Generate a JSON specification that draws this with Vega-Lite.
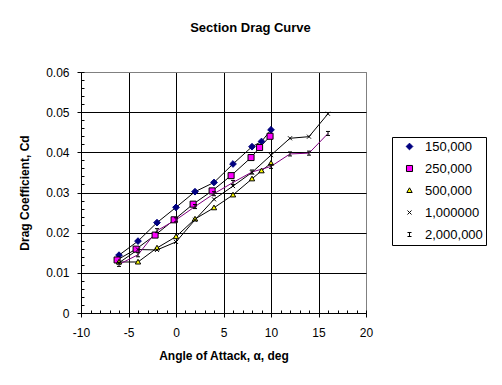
{
  "$schema": "https://vega.github.io/schema/vega-lite/v6.json",
  "width": 285,
  "height": 241,
  "autosize": {"type": "none"},
  "padding": {"left": 81, "top": 72, "right": 136, "bottom": 72},
  "background": "white",
  "title": {
    "text": "Section Drag Curve",
    "font": "Liberation Sans",
    "fontSize": 13,
    "fontWeight": "bold",
    "color": "black",
    "anchor": "middle",
    "baseline": "bottom",
    "dx": 27,
    "offset": 18
  },
  "config": {
    "view": {"stroke": "#808080", "strokeWidth": 1},
    "axis": {
      "labelFont": "Liberation Sans",
      "labelFontSize": 12,
      "labelColor": "black",
      "titleFont": "Liberation Sans",
      "titleFontSize": 12,
      "titleFontWeight": "bold",
      "titleColor": "black",
      "domainColor": "black",
      "tickColor": "black",
      "labelFlush": false,
      "labelOverlap": false
    },
    "legend": {
      "orient": "none",
      "legendX": 311,
      "legendY": 65,
      "strokeColor": "black",
      "fillColor": "white",
      "padding": 3,
      "rowPadding": 8,
      "symbolSize": 45,
      "symbolStrokeWidth": 1,
      "symbolOffset": 8,
      "labelOffset": 9,
      "labelFont": "Liberation Sans",
      "labelFontSize": 13,
      "labelColor": "black"
    }
  },
  "data": {
    "values": [
      {"series": "150,000", "x": -6, "cd": 0.0144},
      {"series": "150,000", "x": -4, "cd": 0.0179},
      {"series": "150,000", "x": -2, "cd": 0.0225},
      {"series": "150,000", "x": 0, "cd": 0.0263},
      {"series": "150,000", "x": 2, "cd": 0.0302},
      {"series": "150,000", "x": 4, "cd": 0.0325},
      {"series": "150,000", "x": 6, "cd": 0.0371},
      {"series": "150,000", "x": 8, "cd": 0.0414},
      {"series": "150,000", "x": 9, "cd": 0.0427},
      {"series": "150,000", "x": 10, "cd": 0.0456},
      {"series": "250,000", "x": -6.2, "cd": 0.0132},
      {"series": "250,000", "x": -4.2, "cd": 0.0159},
      {"series": "250,000", "x": -2.2, "cd": 0.0194},
      {"series": "250,000", "x": -0.2, "cd": 0.0232},
      {"series": "250,000", "x": 1.8, "cd": 0.0271},
      {"series": "250,000", "x": 3.8, "cd": 0.0304},
      {"series": "250,000", "x": 5.8, "cd": 0.0342},
      {"series": "250,000", "x": 7.9, "cd": 0.0387},
      {"series": "250,000", "x": 8.8, "cd": 0.0412},
      {"series": "250,000", "x": 9.9, "cd": 0.044},
      {"series": "500,000", "x": -6, "cd": 0.0127},
      {"series": "500,000", "x": -4, "cd": 0.0127},
      {"series": "500,000", "x": -2, "cd": 0.0162},
      {"series": "500,000", "x": 0, "cd": 0.019},
      {"series": "500,000", "x": 2, "cd": 0.0234},
      {"series": "500,000", "x": 4, "cd": 0.0262},
      {"series": "500,000", "x": 6, "cd": 0.0294},
      {"series": "500,000", "x": 8, "cd": 0.0334},
      {"series": "500,000", "x": 9, "cd": 0.0354},
      {"series": "500,000", "x": 10, "cd": 0.0373},
      {"series": "1,000000", "x": -6, "cd": 0.0125},
      {"series": "1,000000", "x": -4, "cd": 0.0158},
      {"series": "1,000000", "x": -2, "cd": 0.0157},
      {"series": "1,000000", "x": 0, "cd": 0.0177},
      {"series": "1,000000", "x": 2, "cd": 0.0232},
      {"series": "1,000000", "x": 4, "cd": 0.0283},
      {"series": "1,000000", "x": 6, "cd": 0.0316},
      {"series": "1,000000", "x": 8, "cd": 0.035},
      {"series": "1,000000", "x": 10, "cd": 0.0393},
      {"series": "1,000000", "x": 12, "cd": 0.0435},
      {"series": "1,000000", "x": 14, "cd": 0.0439},
      {"series": "1,000000", "x": 16, "cd": 0.0496},
      {"series": "2,000,000", "x": -6, "cd": 0.0121},
      {"series": "2,000,000", "x": -4, "cd": 0.0145},
      {"series": "2,000,000", "x": -2, "cd": 0.0205},
      {"series": "2,000,000", "x": 0, "cd": 0.0232},
      {"series": "2,000,000", "x": 2, "cd": 0.0265},
      {"series": "2,000,000", "x": 4, "cd": 0.0297},
      {"series": "2,000,000", "x": 6, "cd": 0.0325},
      {"series": "2,000,000", "x": 8, "cd": 0.0351},
      {"series": "2,000,000", "x": 10, "cd": 0.0365},
      {"series": "2,000,000", "x": 12, "cd": 0.0396},
      {"series": "2,000,000", "x": 14, "cd": 0.0398},
      {"series": "2,000,000", "x": 16, "cd": 0.0447}
    ]
  },
  "layer": [
    {
      "mark": {"type": "line", "strokeWidth": 1},
      "encoding": {
        "x": {
          "field": "x", "type": "quantitative",
          "scale": {"domain": [-10, 20], "nice": false, "zero": false},
          "axis": {
            "values": [-10, -5, 0, 5, 10, 15, 20],
            "labelExpr": "'' + datum.value",
            "grid": true,
            "gridColor": {"condition": {"test": "datum.value == 20", "value": "#808080"}, "value": "black"},
            "gridOpacity": 1,
            "tickSize": 4,
            "labelPadding": 10,
            "title": "Angle of Attack, α, deg",
            "titlePadding": 12
          }
        },
        "y": {
          "field": "cd", "type": "quantitative",
          "scale": {"domain": [0, 0.06], "nice": false},
          "axis": {
            "values": [0, 0.01, 0.02, 0.03, 0.04, 0.05, 0.06],
            "labelExpr": "datum.value == 0 ? '0' : format(datum.value, '.2f')",
            "grid": true,
            "gridColor": {"condition": {"test": "datum.value > 0.059", "value": "#808080"}, "value": "black"},
            "gridOpacity": 1,
            "tickSize": 4,
            "labelPadding": 8,
            "title": "Drag Coefficient, Cd",
            "titlePadding": 14
          }
        },
        "detail": {"field": "series", "type": "nominal"},
        "color": {
          "condition": {"test": "datum.series === '2,000,000'", "value": "#800080"},
          "value": "black"
        }
      }
    },
    {
      "mark": {"type": "point", "size": 45, "opacity": 1, "strokeWidth": 1},
      "encoding": {
        "x": {
          "field": "x", "type": "quantitative",
          "axis": {
            "values": [-10,-9,-8,-7,-6,-5,-4,-3,-2,-1,0,1,2,3,4,5,6,7,8,9,10,11,12,13,14,15,16,17,18,19,20],
            "labels": false, "grid": false, "domain": false, "tickSize": 3, "offset": -3, "title": null, "orient": "bottom"
          }
        },
        "y": {
          "field": "cd", "type": "quantitative",
          "axis": {
            "values": [0,0.002,0.004,0.006,0.008,0.01,0.012,0.014,0.016,0.018,0.02,0.022,0.024,0.026,0.028,0.03,0.032,0.034,0.036,0.038,0.04,0.042,0.044,0.046,0.048,0.05,0.052,0.054,0.056,0.058,0.06],
            "labels": false, "grid": false, "domain": false, "tickSize": 3, "offset": -3, "title": null, "orient": "left"
          }
        },
        "shape": {
          "field": "series", "type": "nominal",
          "scale": {
            "domain": ["150,000", "250,000", "500,000", "1,000000", "2,000,000"],
            "range": [
              "M0,-1L1,0L0,1L-1,0Z",
              "M-0.9,-0.9H0.9V0.9H-0.9Z",
              "M0,-0.8L0.8,0.6H-0.8Z",
              "M-0.6,-0.6L0.6,0.6M-0.6,0.6L0.6,-0.6",
              "M-0.6,-0.6H0.6M0,-0.6V0.6M-0.6,0.6H0.6"
            ]
          },
          "legend": {
            "title": null,
            "labelExpr": "datum.label + '\u00a0'"
          }
        },
        "fill": {
          "field": "series", "type": "nominal",
          "scale": {
            "domain": ["150,000", "250,000", "500,000", "1,000000", "2,000,000"],
            "range": ["#000080", "#FF00FF", "#FFFF00", "transparent", "transparent"]
          },
          "legend": {
            "title": null,
            "labelExpr": "datum.label + '\u00a0'"
          }
        },
        "stroke": {
          "field": "series", "type": "nominal",
          "scale": {
            "domain": ["150,000", "250,000", "500,000", "1,000000", "2,000,000"],
            "range": ["#000080", "black", "black", "black", "black"]
          },
          "legend": {
            "title": null,
            "labelExpr": "datum.label + '\u00a0'"
          }
        }
      }
    }
  ],
  "resolve": {"axis": {"x": "independent", "y": "independent"}}
}
